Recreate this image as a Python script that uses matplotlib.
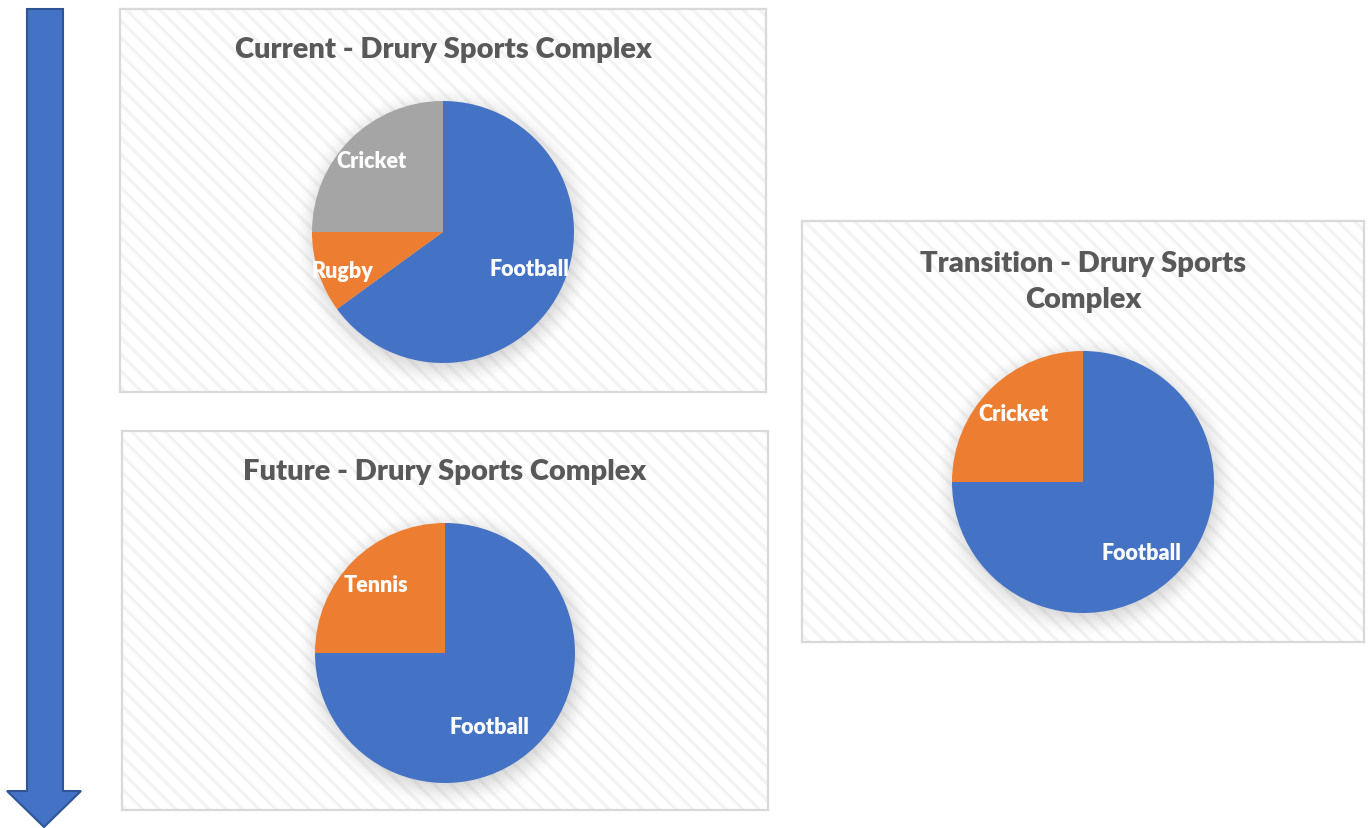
import numpy as np
import matplotlib
matplotlib.use("Agg")
import matplotlib.pyplot as plt
from matplotlib.patches import Rectangle, Polygon

# ---- data ----
current_labels = ["Football", "Rugby", "Cricket"]
current_values = [65, 10, 25]
transition_labels = ["Football", "Cricket"]
transition_values = [75, 25]
future_labels = ["Football", "Tennis"]
future_values = [75, 25]

titles = ["Current - Drury Sports Complex",
          "Transition - Drury Sports\nComplex",
          "Future - Drury Sports Complex"]

BLUE = "#4472C4"
ORANGE = "#ED7D31"
GRAY = "#A5A5A5"

W, H = 1370, 829
fig = plt.figure(figsize=(W / 100, H / 100), dpi=100)
fig.patch.set_facecolor("white")
plt.rcParams["hatch.linewidth"] = 2.4

FONT = ["Lato", "DejaVu Sans"]


def px_axes(x0, y0, x1, y1):
    """axes in pixel coords (top-left origin)"""
    return fig.add_axes([x0 / W, 1 - y1 / H, (x1 - x0) / W, (y1 - y0) / H])


def panel(box, title, title_y, center, radius, labels, values, colors, label_pos):
    x0, y0, x1, y1 = box
    ax = px_axes(x0, y0, x1, y1)
    w, h = x1 - x0, y1 - y0
    ax.set_facecolor("white")
    ax.add_patch(Rectangle((0, 0), w, h, facecolor="white", edgecolor="#f3f3f3",
                           linewidth=0, hatch="\\\\", zorder=0))
    cx, cy = center[0] - x0, center[1] - y0
    # soft shadow
    ext = radius + 40
    n = 400
    xs = np.linspace(-ext, ext, n)
    XX, YY = np.meshgrid(xs, xs)
    d = np.hypot(XX - 2, YY - 5)
    t = np.clip((radius + 22 - d) / 40.0, 0, 1)
    alpha = 0.32 * t * t * (3 - 2 * t)
    img = np.zeros((n, n, 4))
    img[..., :3] = 0.4
    img[..., 3] = alpha
    ax.imshow(img, extent=(cx - ext, cx + ext, cy + ext, cy - ext), zorder=1,
              interpolation="bilinear")
    # pie (y axis inverted -> counterclock=True appears clockwise)
    wedges, _ = ax.pie(values, colors=colors, startangle=-90, counterclock=True,
                       center=(cx, cy), radius=radius, frame=True,
                       wedgeprops=dict(linewidth=0, zorder=2))
    ax.set_xlim(0, w)
    ax.set_ylim(h, 0)
    ax.set_aspect("auto")
    ax.set_xticks([])
    ax.set_yticks([])
    for s in ax.spines.values():
        s.set_color("#d9d9d9")
        s.set_linewidth(1.6)
    for lab, (fr, ang) in zip(labels, label_pos):
        a = np.deg2rad(ang)
        ax.text(cx + fr * radius * np.cos(a), cy - fr * radius * np.sin(a), lab,
                ha="center", va="center", color="white", fontsize=15.5,
                fontweight="heavy", family=FONT, zorder=5)
    ax.text(cx, title_y - y0, title, ha="center", va="center",
            color="#595959", fontsize=21, fontweight="heavy", family=FONT,
            linespacing=1.5, zorder=5)
    return ax


panel((120, 10, 766, 393), titles[0], 50, (443, 233), 131,
      current_labels, current_values, [BLUE, ORANGE, GRAY],
      [(0.72, -23), (0.82, 201), (0.77, 135)])
panel((802, 222, 1364, 643), titles[1], 282, (1083, 483), 131,
      transition_labels, transition_values, [BLUE, ORANGE],
      [(0.70, -50.7), (0.75, 135.4)])
panel((122, 432, 768, 811), titles[2], 472, (445, 654), 130,
      future_labels, future_values, [BLUE, ORANGE],
      [(0.66, -58.9), (0.75, 135)])

# ---- arrow ----
axa = px_axes(0, 0, W, H)
axa.set_xlim(0, W)
axa.set_ylim(H, 0)
axa.axis("off")
axa.set_zorder(-1)
arrow_pts = [(27, 10), (63, 10), (63, 792), (81, 792), (44, 828), (7, 792), (27, 792)]
axa.add_patch(Polygon(arrow_pts, closed=True, facecolor=BLUE, edgecolor="#2F5597",
                      linewidth=1.5))

fig.savefig("out.png", dpi=100, facecolor="white")
